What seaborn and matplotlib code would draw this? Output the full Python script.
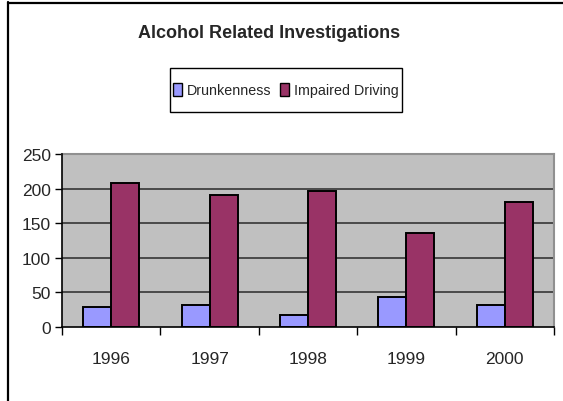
import matplotlib
matplotlib.use("Agg")
import matplotlib.pyplot as plt
import seaborn as sns
import pandas as pd
from matplotlib.lines import Line2D
from matplotlib.patches import Rectangle
from matplotlib.ticker import FixedLocator

years = ["1996", "1997", "1998", "1999", "2000"]
drunkenness = [29, 32, 17, 43, 32]
impaired_driving = [208, 191, 197, 136, 180]
series_names = ["Drunkenness", "Impaired Driving"]
title_text = "Alcohol Related Investigations"
y_ticks = [0, 50, 100, 150, 200, 250]
colors = ["#9999FF", "#993366"]

df = pd.DataFrame({
    "year": years * 2,
    "value": drunkenness + impaired_driving,
    "series": [series_names[0]] * len(years) + [series_names[1]] * len(years),
})

sns.set_theme(style="white")
plt.rcParams["font.family"] = ["Liberation Sans", "DejaVu Sans"]

W, H = 563, 402
fig = plt.figure(figsize=(W / 100, H / 100), dpi=100)
fig.patch.set_facecolor("white")
ax = fig.add_axes([62 / W, 1 - 328 / H, (554 - 62) / W, (328 - 155) / H])
ax.set_facecolor("#C0C0C0")

sns.barplot(data=df, x="year", y="value", hue="series",
            palette=colors, saturation=1, width=0.57,
            edgecolor="black", linewidth=1.4, ax=ax, legend=False, zorder=3)

ax.set_ylim(0, 250)
ax.set_xlim(-0.5, len(years) - 0.5)
ax.set_yticks(y_ticks)
ax.set_yticklabels([str(v) for v in y_ticks], fontsize=12.5)
ax.set_xticks(range(len(years)))
ax.set_xticklabels(years, fontsize=12.5)
ax.tick_params(axis="x", which="major", length=0, pad=17)
ax.xaxis.set_minor_locator(FixedLocator([i - 0.5 for i in range(len(years) + 1)]))
ax.tick_params(axis="x", which="minor", length=6, width=1, color="black", direction="out", bottom=True)
ax.tick_params(axis="y", length=5, width=1, color="black", direction="out", left=True, pad=3)
ax.set_xlabel("")
ax.set_ylabel("")

for v in y_ticks[1:-1]:
    ax.axhline(v, color="#404040", linewidth=1.3, zorder=1)

for sp in ["left", "bottom"]:
    ax.spines[sp].set_color("black")
    ax.spines[sp].set_linewidth(1.2)
    ax.spines[sp].set_zorder(4)
for sp in ["top", "right"]:
    ax.spines[sp].set_color("#909090")
    ax.spines[sp].set_linewidth(1.5)

fig.text(269.5 / W, 1 - 34 / H, title_text, ha="center", va="center",
         fontsize=13, fontweight="bold")

handles = [plt.Rectangle((0, 0), 1, 1, facecolor=c, edgecolor="black", linewidth=1)
           for c in colors]
leg = fig.legend(handles, series_names, loc="center", bbox_to_anchor=(286 / W, 1 - 91 / H),
                 ncol=2, fontsize=10.3, frameon=False,
                 handlelength=0.6, handleheight=1.0, handletextpad=0.35,
                 columnspacing=0.6, borderpad=0.2, borderaxespad=0)

fig.add_artist(Rectangle((170 / W, 1 - 113 / H), (402 - 170) / W, 44 / H,
                         transform=fig.transFigure, facecolor="none",
                         edgecolor="black", linewidth=1))

fig.add_artist(Line2D([8 / W, 8 / W], [0, 1 - 3 / H], transform=fig.transFigure,
                      color="black", linewidth=1.6))
fig.add_artist(Line2D([8 / W, 1], [1 - 4 / H, 1 - 4 / H], transform=fig.transFigure,
                      color="black", linewidth=1.6))

fig.savefig("out.png", dpi=100)
